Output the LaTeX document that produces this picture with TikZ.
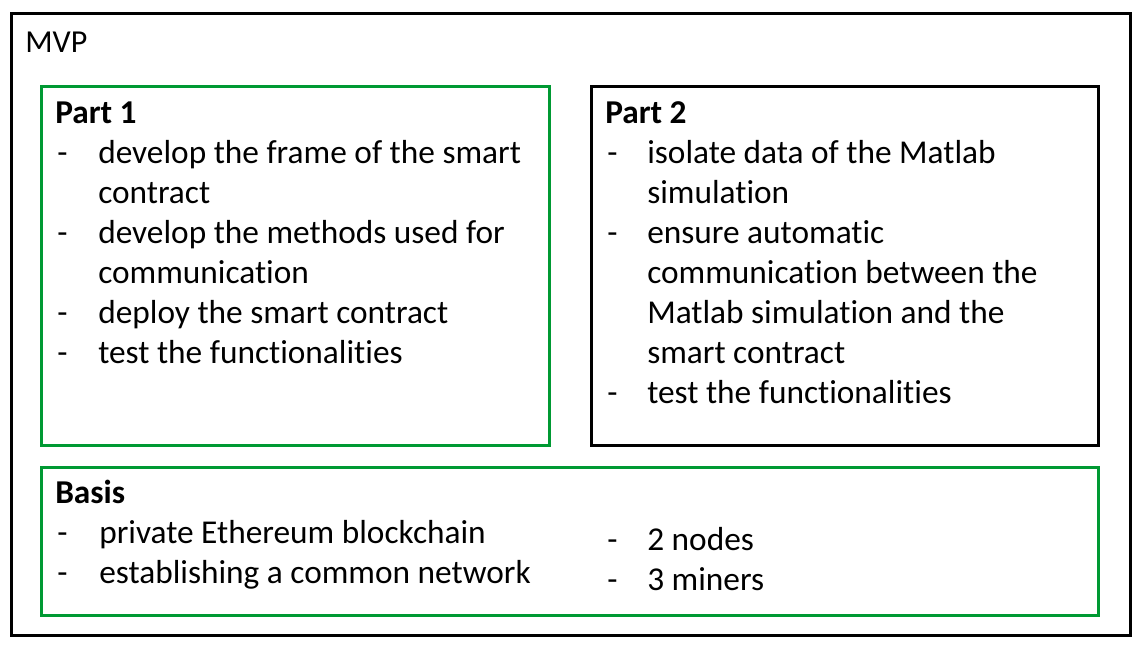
\documentclass[tikz,border=0pt]{standalone}
\usepackage{fontspec}
\setmainfont{Carlito}[Ligatures=NoCommon]
\definecolor{grn}{RGB}{0,153,51}
\begin{document}
\begin{tikzpicture}[x=0.75pt,y=-0.75pt,
  box/.style={draw, line width=2.25pt},
  txt/.style={anchor=base west, inner sep=0pt, font=\fontsize{25}{30}\selectfont},
  hd/.style={txt, font=\fontsize{25}{30}\selectfont\bfseries}]
\useasboundingbox (0,0) rectangle (1138,644);
\node[box, black, minimum width=1119*0.75pt, minimum height=622*0.75pt, anchor=north west, inner sep=0] (outer) at (10,12) {};
\node[box, grn, minimum width=508*0.75pt, minimum height=359*0.75pt, anchor=north west, inner sep=0] (p1) at (40,85) {};
\node[box, black, minimum width=507*0.75pt, minimum height=359*0.75pt, anchor=north west, inner sep=0] (p2) at (590,85) {};
\node[box, grn, minimum width=1057*0.75pt, minimum height=148*0.75pt, anchor=north west, inner sep=0] (basis) at (40,466) {};

\node[txt, font=\fontsize{24}{30}\selectfont] (mvp) at (25,52) {MVP};

% Part 1
\node[hd] (p1h) at (55,123) {Part 1};
\node[txt] (p1d1) at (57,163) {-};
\node[txt] (p1t1) at (98,163) {develop the frame of the smart};
\node[txt] (p1t1b) at (98,203) {contract};
\node[txt] (p1d2) at (57,243) {-};
\node[txt] (p1t2) at (98,243) {develop the methods used for};
\node[txt] (p1t2b) at (98,283) {communication};
\node[txt] (p1d3) at (57,323) {-};
\node[txt] (p1t3) at (98,323) {deploy the smart contract};
\node[txt] (p1d4) at (57,363) {-};
\node[txt] (p1t4) at (98,363) {test the functionalities};

% Part 2
\node[hd] (p2h) at (605,123) {Part 2};
\node[txt] (p2d1) at (607,163) {-};
\node[txt] (p2t1) at (647,163) {isolate data of the Matlab};
\node[txt] (p2t1b) at (647,203) {simulation};
\node[txt] (p2d2) at (607,243) {-};
\node[txt] (p2t2) at (647,243) {ensure automatic};
\node[txt] (p2t2b) at (647,283) {communication between the};
\node[txt] (p2t2c) at (647,323) {Matlab simulation and the};
\node[txt] (p2t2d) at (647,363) {smart contract};
\node[txt] (p2d3) at (607,403) {-};
\node[txt] (p2t3) at (647,403) {test the functionalities};

% Basis
\node[hd] (bh) at (55,503) {Basis};
\node[txt] (bd1) at (57,543) {-};
\node[txt] (bt1) at (99,543) {private Ethereum blockchain};
\node[txt] (bd2) at (57,583) {-};
\node[txt] (bt2) at (99,583) {establishing a common network};
\node[txt] (bd3) at (607,550) {-};
\node[txt] (bt3) at (647,550) {2 nodes};
\node[txt] (bd4) at (607,590) {-};
\node[txt] (bt4) at (647,590) {3 miners};
\end{tikzpicture}
\end{document}
